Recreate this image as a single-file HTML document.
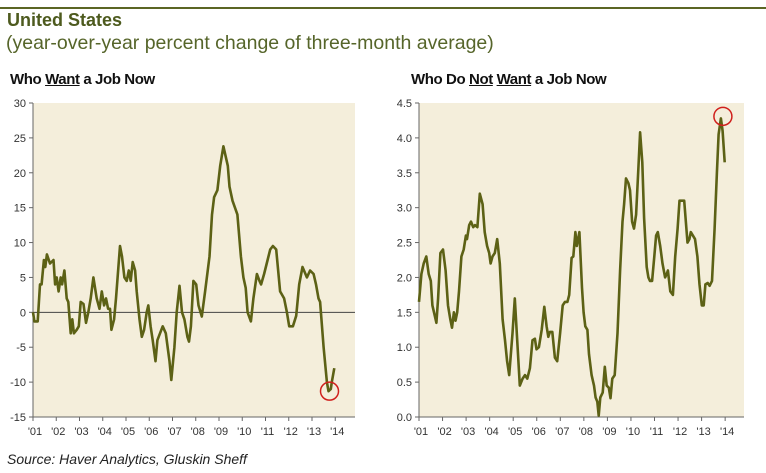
<!DOCTYPE html>
<html><head><meta charset="utf-8"><style>
html,body{margin:0;padding:0;background:#fff;}
body{width:766px;height:473px;position:relative;overflow:hidden;font-family:"Liberation Sans",Arial,sans-serif;}
.t{position:absolute;white-space:nowrap;}
</style></head><body>
<div style="position:absolute;left:0;top:7px;width:766px;height:2px;background:#5b6524"></div>
<div class="t" style="left:7px;top:10px;font-size:18px;font-weight:bold;color:#4d5a1e">United States</div>
<div class="t" style="left:6px;top:32px;font-size:19.5px;color:#56652a">(year-over-year percent change of three-month average)</div>
<div class="t" style="left:10px;top:71px;font-size:15px;font-weight:bold;color:#111;letter-spacing:-0.4px">Who <u>Want</u> a Job Now</div>
<div class="t" style="left:411px;top:71px;font-size:15px;font-weight:bold;color:#111;letter-spacing:-0.4px">Who Do <u>Not</u> <u>Want</u> a Job Now</div>
<div class="t" style="left:7px;top:451px;font-size:14px;font-style:italic;color:#222">Source: Haver Analytics, Gluskin Sheff</div>
<svg id="svg" width="766" height="473" style="position:absolute;left:0;top:0"></svg>
<script>
const yearLabels=["'01","'02","'03","'04","'05","'06","'07","'08","'09","'10","'11","'12","'13","'14"];
const leftTicks=[30,25,20,15,10,5,0,-5,-10,-15];
const rightTicks=["4.5","4.0","3.5","3.0","2.5","2.0","1.5","1.0","0.5","0.0"];
const leftDates=[2001.00,2001.06,2001.20,2001.30,2001.37,2001.47,2001.53,2001.60,2001.73,2001.88,2001.95,2002.02,2002.10,2002.19,2002.25,2002.35,2002.45,2002.52,2002.62,2002.69,2002.76,2002.88,2002.97,2003.05,2003.17,2003.28,2003.38,2003.48,2003.60,2003.74,2003.86,2003.96,2004.06,2004.14,2004.23,2004.31,2004.37,2004.49,2004.57,2004.74,2004.83,2004.93,2005.03,2005.12,2005.20,2005.29,2005.39,2005.46,2005.58,2005.68,2005.78,2005.89,2005.96,2006.06,2006.15,2006.27,2006.35,2006.58,2006.71,2006.87,2006.95,2007.08,2007.18,2007.30,2007.41,2007.51,2007.64,2007.71,2007.79,2007.90,2008.02,2008.12,2008.26,2008.40,2008.59,2008.70,2008.79,2008.93,2009.05,2009.19,2009.38,2009.45,2009.58,2009.79,2009.94,2010.05,2010.15,2010.23,2010.37,2010.48,2010.63,2010.74,2010.81,2010.94,2011.09,2011.20,2011.32,2011.46,2011.63,2011.80,2011.92,2012.02,2012.18,2012.32,2012.45,2012.59,2012.78,2012.92,2013.07,2013.17,2013.28,2013.35,2013.50,2013.64,2013.71,2013.81,2013.85,2013.96];
const leftValues=[0,-1.3,-1.3,4,4,7.5,6.5,8.3,7,7.5,4,5,3,5,4,6,2,1.5,-3,-1,-3,-2.5,-2,1.5,1.2,-1.5,0,2,5,2,0.5,3,1,2,0.5,0.5,-2.5,-1,2,9.5,8,5,4.5,6,4.5,7.2,6,3,-1,-3.5,-2.5,0,1,-2,-4,-7,-4,-2,-3,-7,-9.7,-5,0,3.8,0,-1,-3.5,-4.2,-2,4.5,4,1,-0.6,3,8,14,16.5,17.5,21,23.8,21,18,16,14,8,5,3.5,0,-1.3,2,5.5,4.5,4,5.5,7.5,9,9.5,9,3,2,0,-2,-2,-0.5,4,6.5,5,6,5.5,4,2,1.5,-5,-10,-11.3,-11,-10,-8];
const rightDates=[2001.00,2001.10,2001.20,2001.31,2001.41,2001.50,2001.57,2001.67,2001.74,2001.81,2001.91,2002.02,2002.13,2002.23,2002.33,2002.40,2002.48,2002.55,2002.62,2002.70,2002.80,2002.90,2002.99,2003.04,2003.13,2003.21,2003.30,2003.38,2003.48,2003.58,2003.70,2003.79,2003.89,2003.98,2004.04,2004.12,2004.22,2004.32,2004.43,2004.55,2004.65,2004.74,2004.83,2004.97,2005.07,2005.17,2005.28,2005.40,2005.50,2005.60,2005.71,2005.82,2005.92,2005.99,2006.09,2006.21,2006.32,2006.42,2006.49,2006.56,2006.66,2006.77,2006.87,2006.99,2007.10,2007.20,2007.30,2007.38,2007.48,2007.55,2007.64,2007.70,2007.81,2007.92,2007.99,2008.06,2008.15,2008.22,2008.33,2008.43,2008.50,2008.57,2008.63,2008.70,2008.80,2008.89,2008.97,2009.06,2009.13,2009.21,2009.31,2009.43,2009.54,2009.64,2009.71,2009.79,2009.89,2009.96,2010.05,2010.13,2010.22,2010.32,2010.39,2010.48,2010.56,2010.67,2010.74,2010.81,2010.90,2010.99,2011.07,2011.14,2011.24,2011.34,2011.45,2011.52,2011.57,2011.67,2011.78,2011.88,2011.98,2012.06,2012.16,2012.26,2012.40,2012.48,2012.54,2012.63,2012.72,2012.82,2012.91,2013.01,2013.09,2013.16,2013.26,2013.34,2013.44,2013.55,2013.65,2013.72,2013.82,2013.89,2013.98];
const rightValues=[1.65,2.05,2.2,2.3,2.05,1.95,1.6,1.45,1.35,1.7,2.35,2.4,2.1,1.6,1.4,1.28,1.5,1.38,1.5,1.8,2.3,2.4,2.6,2.55,2.75,2.8,2.72,2.75,2.72,3.2,3.05,2.65,2.45,2.35,2.2,2.3,2.35,2.55,2.2,1.4,1.1,0.8,0.6,1.2,1.7,1.1,0.45,0.55,0.6,0.55,0.7,1.1,1.12,0.97,1.0,1.25,1.58,1.3,1.15,1.22,1.22,0.85,0.8,1.2,1.6,1.65,1.65,1.75,2.28,2.3,2.65,2.45,2.65,1.85,1.5,1.3,1.25,0.9,0.6,0.45,0.28,0.22,0.02,0.28,0.35,0.72,0.45,0.42,0.27,0.55,0.6,1.2,2.1,2.8,3.05,3.42,3.35,3.25,2.8,2.7,2.9,3.6,4.08,3.65,2.85,2.15,2.0,1.95,1.95,2.3,2.6,2.65,2.45,2.2,2.0,2.05,2.1,1.8,1.75,2.3,2.7,3.1,3.1,3.1,2.5,2.55,2.65,2.6,2.55,2.3,1.9,1.6,1.6,1.9,1.92,1.88,1.95,2.7,3.5,4.05,4.28,4.1,3.65];

const NS='http://www.w3.org/2000/svg';
const svg=document.getElementById('svg');
function mk(tag,attrs,parent){const e=document.createElementNS(NS,tag);for(const k in attrs)e.setAttribute(k,attrs[k]);(parent||svg).appendChild(e);return e;}

function drawChart(o){
  const g=mk('g',{});
  
  
  const xS=d=>o.x0+(d-2001)*o.yw;
  const yS=v=>o.yb-(v-o.ymin)/(o.ymax-o.ymin)*(o.yb-o.yt);
  const bg=mk('rect',{x:o.x0,y:o.yt,width:o.x1-o.x0,height:o.yb-o.yt,fill:'#f4eedb'},g);
  
  
  mk('line',{x1:o.x0,y1:o.yt,x2:o.x0,y2:o.yb,stroke:'#666','stroke-width':1},g);
  mk('line',{x1:o.x0,y1:o.yb,x2:o.x1,y2:o.yb,stroke:'#666','stroke-width':1},g);
  o.ticks.forEach(t=>{
    const v=parseFloat(t);const y=yS(v);
    mk('line',{x1:o.x0-4,y1:y,x2:o.x0,y2:y,stroke:'#666'},g);
    const tx=mk('text',{x:o.x0-7,y:y+4,'text-anchor':'end','font-size':11,fill:'#333','font-family':'Liberation Sans, sans-serif'},g);
    tx.textContent=t;
    
    
  });
  yearLabels.forEach((l,i)=>{
    const x=xS(2001+i);
    mk('line',{x1:x,y1:o.yb,x2:x,y2:o.yb+4,stroke:'#666'},g);
    const tx=mk('text',{x:x+2,y:o.yb+18,'text-anchor':'middle','font-size':11,fill:'#333','font-family':'Liberation Sans, sans-serif'},g);
    tx.textContent=l;
    
    
  });
  if(o.zero){const zl=mk('line',{x1:o.x0,y1:yS(0),x2:o.x1,y2:yS(0),stroke:'#444','stroke-width':1},g);
    
    }
  const pts=o.dates.map((d,i)=>xS(d).toFixed(1)+','+yS(o.values[i]).toFixed(1)).join(' ');
  const pl=mk('polyline',{points:pts,fill:'none',stroke:'#5c6115','stroke-width':2.6,'stroke-linejoin':'round'},g);
  
  
  const ci=o.hi;
  const c=mk('circle',{cx:xS(o.dates[ci])+o.cdx,cy:yS(o.values[ci])+o.cdy,r:9,fill:'none',stroke:'#d0201c','stroke-width':1.5},g);
  
  
}
drawChart({name:'left-chart',x0:33,x1:355,yt:103,yb:417,ymin:-15,ymax:30,yw:23.25,ticks:leftTicks,dates:leftDates,values:leftValues,zero:true,hi:leftValues.indexOf(Math.min(...leftValues)),cdx:1,cdy:0});
drawChart({name:'right-chart',x0:419,x1:744,yt:103,yb:417,ymin:0,ymax:4.5,yw:23.55,ticks:rightTicks,dates:rightDates,values:rightValues,zero:false,hi:rightValues.indexOf(Math.max(...rightValues)),cdx:2,cdy:-2});
</script>
</body></html>
